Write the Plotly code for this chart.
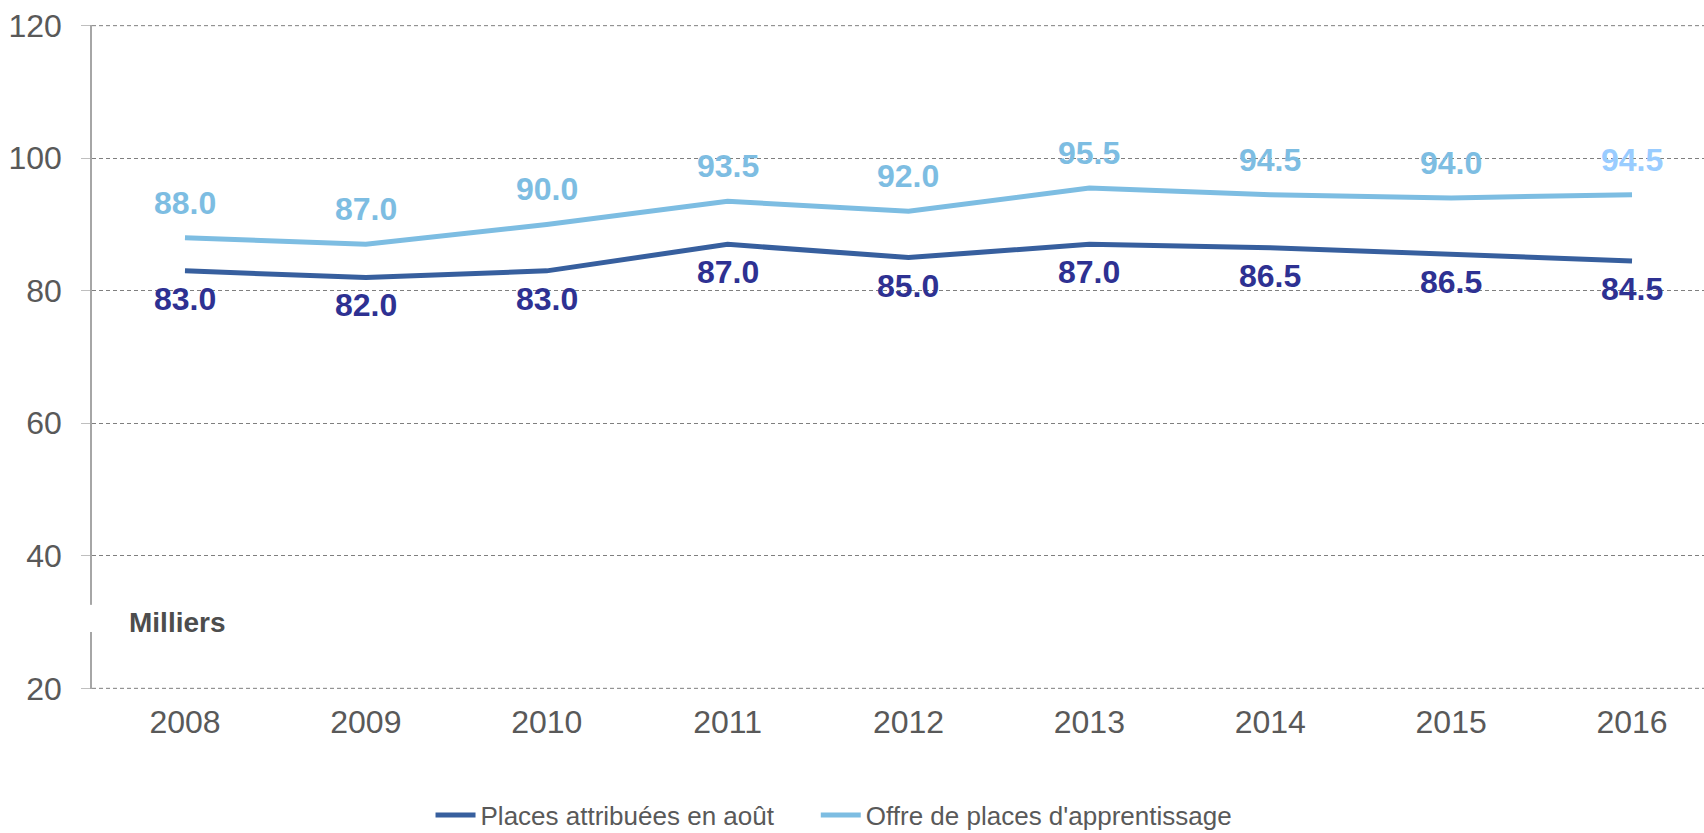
import plotly.graph_objects as go

years = ["2008", "2009", "2010", "2011", "2012", "2013", "2014", "2015", "2016"]
places_attribuees = [83.0, 82.0, 83.0, 87.0, 85.0, 87.0, 86.5, 85.5, 84.5]
places_attribuees_labels = ["83.0", "82.0", "83.0", "87.0", "85.0", "87.0", "86.5", "86.5", "84.5"]
offre_places = [88.0, 87.0, 90.0, 93.5, 92.0, 95.5, 94.5, 94.0, 94.5]
offre_places_labels = ["88.0", "87.0", "90.0", "93.5", "92.0", "95.5", "94.5", "94.0", "94.5"]
y_ticks = [20, 40, 60, 80, 100, 120]

DARK_LINE = "#375F9E"
DARK_TEXT = "#2E3192"
LIGHT_LINE = "#7DBDE2"
LIGHT_TEXT = "#7DBDE2"
LIGHT_TEXT_LAST = "#99CCFF"
FONT = "Liberation Sans, Arial, sans-serif"
GRAY = "#595959"
GRID = "#7F7F7F"

fig = go.Figure()
fig.add_trace(go.Scatter(
    x=years, y=places_attribuees, mode="lines", name="Places attribuées en août",
    line=dict(color=DARK_LINE, width=5), hoverinfo="skip", legend="legend",
))
fig.add_trace(go.Scatter(
    x=years, y=offre_places, mode="lines", name="Offre de places d'apprentissage",
    line=dict(color=LIGHT_LINE, width=5), hoverinfo="skip", legend="legend2",
))

annotations = []
for i, (v, t) in enumerate(zip(offre_places, offre_places_labels)):
    annotations.append(dict(
        x=i, y=v, xref="x", yref="y", text="<b>" + t + "</b>", showarrow=False, yshift=35,
        font=dict(family=FONT, size=32, color=LIGHT_TEXT_LAST if i == len(years) - 1 else LIGHT_TEXT),
        xanchor="center", yanchor="middle",
    ))
for i, (v, t) in enumerate(zip(places_attribuees, places_attribuees_labels)):
    annotations.append(dict(
        x=i, y=v, xref="x", yref="y", text="<b>" + t + "</b>", showarrow=False, yshift=-28,
        font=dict(family=FONT, size=32, color=DARK_TEXT),
        xanchor="center", yanchor="middle",
    ))
annotations.append(dict(
    x=0.022, xref="paper", y=30, yref="y", text="<b>Milliers</b>", showarrow=False,
    xanchor="left", yanchor="middle",
    font=dict(family=FONT, size=28, color="#4D4D4D"),
))

shapes = [dict(
    type="rect", xref="paper", yref="y", x0=-0.004, x1=0.004, y0=28.5, y1=32.6,
    fillcolor="white", line=dict(width=0), layer="above",
)]
# gridlines at the range ends (plotly omits them at the plot edges)
for yv in (y_ticks[0], y_ticks[-1]):
    shapes.append(dict(
        type="line", xref="paper", yref="y", x0=0, x1=1, y0=yv, y1=yv,
        line=dict(color=GRID, width=1, dash="4px,3px"), layer="below",
    ))

legend_common = dict(
    orientation="h", xanchor="left", y=-0.19, yanchor="middle",
    font=dict(family=FONT, size=26, color=GRAY), itemwidth=40,
    bgcolor="rgba(0,0,0,0)",
)

fig.update_layout(
    width=1704, height=833,
    margin=dict(l=92, r=0, t=25, b=144, autoexpand=False),
    paper_bgcolor="white", plot_bgcolor="white",
    font=dict(family=FONT, color=GRAY),
    showlegend=True,
    legend=dict(x=0.21, **legend_common),
    legend2=dict(x=0.449, **legend_common),
    annotations=annotations,
    shapes=shapes,
    xaxis=dict(
        type="category", range=[-0.514, 8.398], showgrid=False, zeroline=False,
        showline=False, ticks="", tickfont=dict(family=FONT, size=32, color=GRAY),
        ticklabelstandoff=11,
    ),
    yaxis=dict(
        range=[19.9, 120.1], tickvals=y_ticks, showgrid=True, gridcolor=GRID,
        griddash="4px,3px", gridwidth=1, zeroline=False, showline=True,
        linecolor="#A6A6A6", linewidth=1.5, ticks="outside", ticklen=9,
        tickcolor="#BFBFBF", tickfont=dict(family=FONT, size=32, color=GRAY),
        ticklabelstandoff=13,
    ),
)

fig.write_html(
    "out.html",
    config={"displayModeBar": False},
    post_script="document.body.style.margin='0';document.body.style.overflow='hidden';",
)
